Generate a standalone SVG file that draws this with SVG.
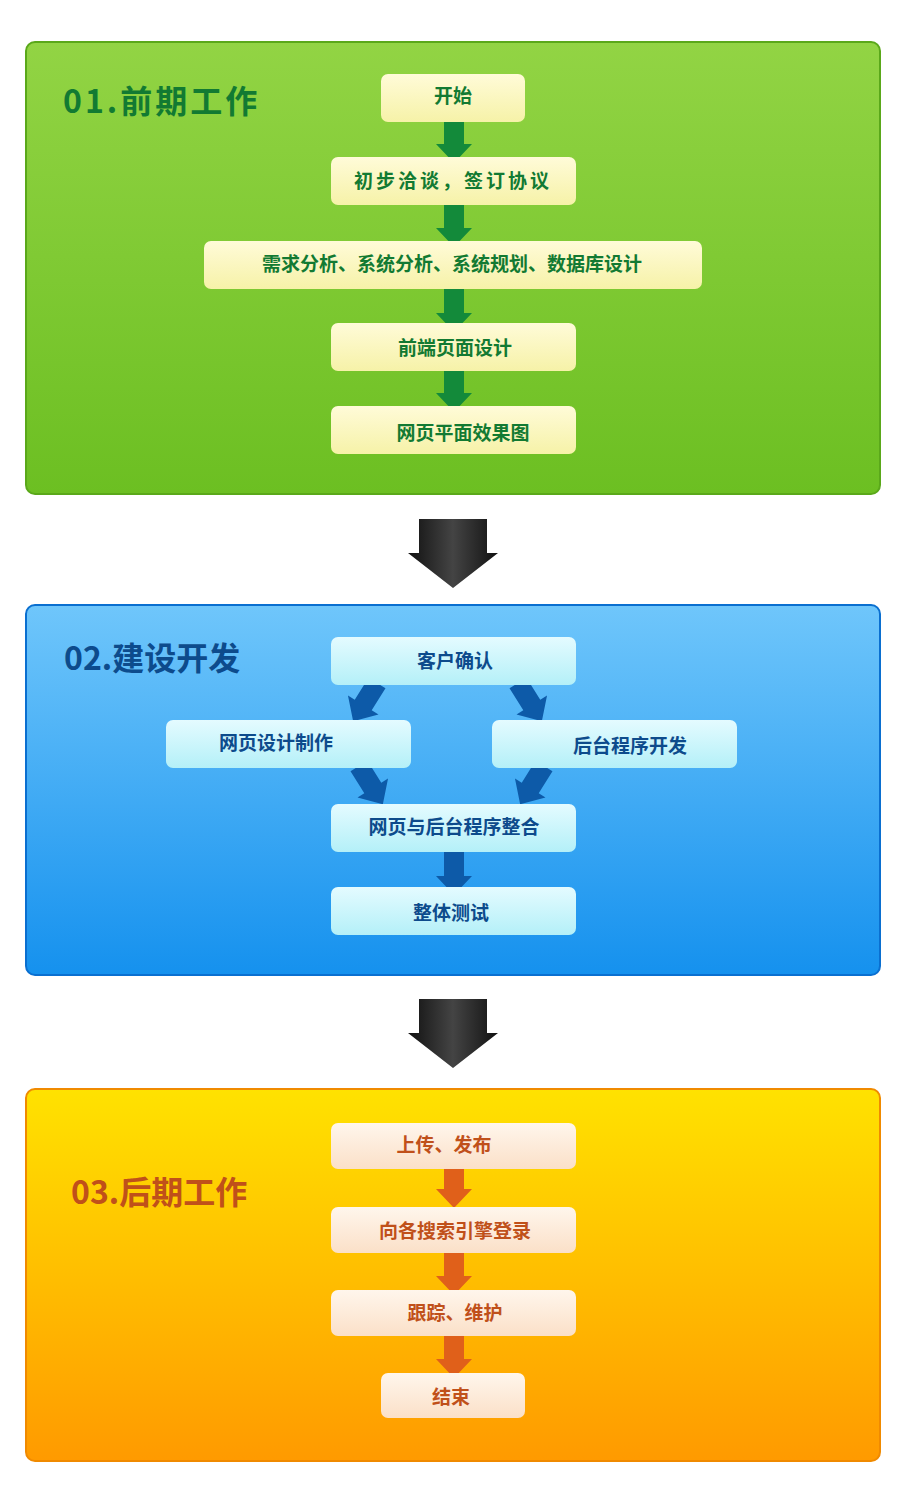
<svg xmlns="http://www.w3.org/2000/svg" width="906" height="1507" viewBox="0 0 906 1507">
<defs>
<linearGradient id="gG" x1="0" y1="0" x2="0" y2="1"><stop offset="0" stop-color="#92d444"/><stop offset="1" stop-color="#6cbf22"/></linearGradient>
<linearGradient id="gB" x1="0" y1="0" x2="0" y2="1"><stop offset="0" stop-color="#6fc6fb"/><stop offset="1" stop-color="#1591ee"/></linearGradient>
<linearGradient id="gO" x1="0" y1="0" x2="0" y2="1"><stop offset="0" stop-color="#ffe200"/><stop offset="1" stop-color="#ff9a00"/></linearGradient>
<linearGradient id="bG" x1="0" y1="0" x2="0" y2="1"><stop offset="0" stop-color="#fffbd8"/><stop offset="1" stop-color="#f6f2a8"/></linearGradient>
<linearGradient id="bB" x1="0" y1="0" x2="0" y2="1"><stop offset="0" stop-color="#e4fbff"/><stop offset="1" stop-color="#b4f0f8"/></linearGradient>
<linearGradient id="bO" x1="0" y1="0" x2="0" y2="1"><stop offset="0" stop-color="#fff6ec"/><stop offset="1" stop-color="#fbe0c8"/></linearGradient>
<linearGradient id="aK" x1="0" y1="0" x2="1" y2="0"><stop offset="0" stop-color="#111"/><stop offset="0.5" stop-color="#444"/><stop offset="1" stop-color="#111"/></linearGradient>
<path id="arr" d="M-10,0 L10,0 L10,26 L18,26 L0,45 L-18,26 L-10,26 Z"/>
<path id="big" d="M-34,0 L34,0 L34,34 L45,34 L0,69 L-45,34 L-34,34 Z"/>
</defs>
<style>
.t{font-family:"Noto Sans CJK SC","Noto Sans",sans-serif;font-weight:bold;font-size:19px;text-anchor:middle}
.h{font-family:"Noto Sans CJK SC","Noto Sans",sans-serif;font-weight:bold;font-size:32px}
.g{fill:#127a32}.b{fill:#0d4b8c}.o{fill:#c0501a}
.ag{fill:#138a3a}.ab{fill:#0d5aa8}.ao{fill:#e0601a}
</style>
<rect width="906" height="1507" fill="#fff"/>
<g id="panel1"><rect x="26" y="42" width="854" height="452" rx="9" fill="url(#gG)" stroke="#5aa81a" stroke-width="2"/><text class="h g" x="63" y="113" letter-spacing="3">01.前期工作</text></g>
<g id="panel2"><rect x="26" y="605" width="854" height="370" rx="9" fill="url(#gB)" stroke="#0a6fd0" stroke-width="2"/><text class="h b" x="64" y="670">02.建设开发</text></g>
<g id="panel3"><rect x="26" y="1089" width="854" height="372" rx="9" fill="url(#gO)" stroke="#f08a00" stroke-width="2"/><text class="h o" x="71" y="1204">03.后期工作</text></g>
<g id="connectors">
<use href="#arr" class="ag" transform="translate(454,118)"/>
<use href="#arr" class="ag" transform="translate(454,202)"/>
<use href="#arr" class="ag" transform="translate(454,287)"/>
<use href="#arr" class="ag" transform="translate(454,367)"/>
<use href="#big" fill="url(#aK)" transform="translate(453,519)"/>
<use href="#arr" class="ab" transform="translate(377,683) rotate(32)"/>
<use href="#arr" class="ab" transform="translate(518,683) rotate(-32)"/>
<use href="#arr" class="ab" transform="translate(359,766) rotate(-32)"/>
<use href="#arr" class="ab" transform="translate(544,766) rotate(32)"/>
<use href="#arr" class="ab" transform="translate(454,850)"/>
<use href="#big" fill="url(#aK)" transform="translate(453,999)"/>
<use href="#arr" class="ao" transform="translate(454,1163)"/>
<use href="#arr" class="ao" transform="translate(454,1250)"/>
<use href="#arr" class="ao" transform="translate(454,1333)"/>
</g>
<g id="n1"><rect x="381" y="74" width="144" height="48" rx="7" fill="url(#bG)"/><text class="t g" x="453" y="103">开始</text></g>
<g id="n2"><rect x="331" y="157" width="245" height="48" rx="7" fill="url(#bG)"/><text class="t g" x="453" y="188" letter-spacing="3">初步洽谈，签订协议</text></g>
<g id="n3"><rect x="204" y="241" width="498" height="48" rx="7" fill="url(#bG)"/><text class="t g" x="452" y="271">需求分析、系统分析、系统规划、数据库设计</text></g>
<g id="n4"><rect x="331" y="323" width="245" height="48" rx="7" fill="url(#bG)"/><text class="t g" x="455" y="355">前端页面设计</text></g>
<g id="n5"><rect x="331" y="406" width="245" height="48" rx="7" fill="url(#bG)"/><text class="t g" x="463" y="440">网页平面效果图</text></g>
<g id="n6"><rect x="331" y="637" width="245" height="48" rx="7" fill="url(#bB)"/><text class="t b" x="455" y="668">客户确认</text></g>
<g id="n7"><rect x="166" y="720" width="245" height="48" rx="7" fill="url(#bB)"/><text class="t b" x="276" y="750">网页设计制作</text></g>
<g id="n8"><rect x="492" y="720" width="245" height="48" rx="7" fill="url(#bB)"/><text class="t b" x="630" y="753">后台程序开发</text></g>
<g id="n9"><rect x="331" y="804" width="245" height="48" rx="7" fill="url(#bB)"/><text class="t b" x="454" y="834">网页与后台程序整合</text></g>
<g id="n10"><rect x="331" y="887" width="245" height="48" rx="7" fill="url(#bB)"/><text class="t b" x="451" y="920">整体测试</text></g>
<g id="n11"><rect x="331" y="1123" width="245" height="46" rx="7" fill="url(#bO)"/><text class="t o" x="444" y="1152">上传、发布</text></g>
<g id="n12"><rect x="331" y="1207" width="245" height="46" rx="7" fill="url(#bO)"/><text class="t o" x="455" y="1238">向各搜索引擎登录</text></g>
<g id="n13"><rect x="331" y="1290" width="245" height="46" rx="7" fill="url(#bO)"/><text class="t o" x="455" y="1320">跟踪、维护</text></g>
<g id="n14"><rect x="381" y="1373" width="144" height="45" rx="7" fill="url(#bO)"/><text class="t o" x="451" y="1404">结束</text></g>
</svg>
